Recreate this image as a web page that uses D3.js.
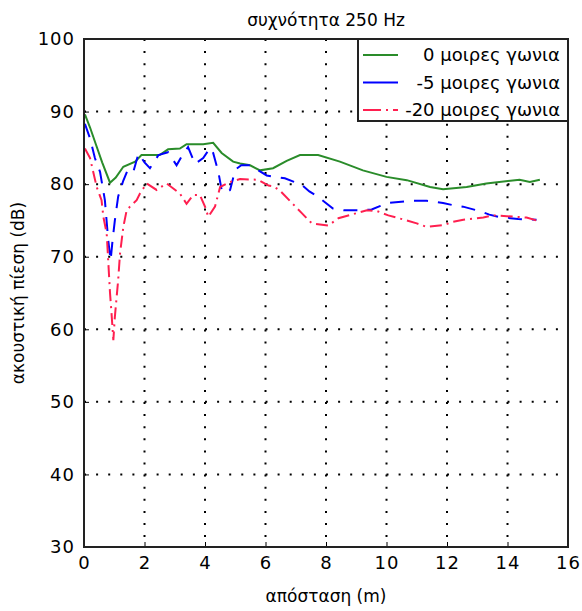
<!DOCTYPE html>
<html>
<head>
<meta charset="utf-8">
<script src="https://cdn.jsdelivr.net/npm/d3@7"></script>
<style>
  html, body { margin: 0; padding: 0; background: #ffffff; }
  text { font-family: "DejaVu Sans", "Liberation Sans", sans-serif; fill: #000; }
</style>
</head>
<body>
<svg id="chart" width="582" height="611"></svg>
<script>
// ---------- data ----------
const title = "συχνότητα 250 Hz";
const xLabel = "απόσταση (m)";
const yLabel = "ακουστική πίεση (dB)";
const xTicks = [0, 2, 4, 6, 8, 10, 12, 14, 16];
const yTicks = [30, 40, 50, 60, 70, 80, 90, 100];
const seriesNames = ["0 μοιρες γωνια", "-5 μοιρες γωνια", "-20 μοιρες γωνια"];

// 0 degrees (green, solid)
const green0X = [0.03, 0.2, 0.4, 0.6, 0.86, 1.05, 1.3, 1.69, 1.9, 2.5, 2.78, 3.17, 3.39, 3.94, 4.27, 4.55, 4.93, 5.16, 5.49, 5.82, 6.25, 6.7, 7.14, 7.74, 8.46, 9.22, 10.0, 10.67, 11.44, 11.87, 12.65, 13.3, 14.4, 14.74, 15.07];
const green0Y = [89.6, 87.8, 85.4, 83.0, 80.2, 80.9, 82.4, 83.1, 84.0, 84.0, 84.8, 84.9, 85.5, 85.5, 85.7, 84.3, 83.1, 82.85, 82.6, 81.9, 82.2, 83.2, 84.0, 84.0, 83.1, 81.9, 81.0, 80.55, 79.6, 79.3, 79.6, 80.1, 80.6, 80.3, 80.6];

// -5 degrees (blue, dashed)
const blue5X = [0.03, 0.2, 0.36, 0.53, 0.69, 0.8, 0.88, 0.95, 1.02, 1.13, 1.3, 1.45, 1.63, 1.8, 2.0, 2.18, 2.46, 2.78, 3.06, 3.25, 3.44, 3.67, 3.94, 4.17, 4.27, 4.44, 4.55, 4.7, 4.83, 5.0, 5.2, 5.49, 6.04, 6.3, 6.64, 7.2, 7.45, 7.74, 8.23, 8.6, 9.12, 9.51, 9.8, 10.05, 10.78, 11.05, 11.33, 11.87, 12.2, 12.53, 13.15, 13.4, 13.69, 14.35, 14.96];
const blue5Y = [88.3, 86.3, 83.6, 81.7, 77.8, 72.3, 69.5, 72.5, 75.0, 78.3, 80.5, 82.0, 81.7, 84.2, 83.0, 82.2, 84.0, 84.4, 82.6, 84.0, 85.1, 82.8, 83.6, 85.0, 84.3, 81.7, 79.2, 78.8, 79.2, 82.0, 82.6, 82.6, 81.2, 81.0, 80.8, 79.9, 79.0, 78.25, 76.65, 76.4, 76.4, 76.5, 77.0, 77.4, 77.7, 77.7, 77.7, 77.4, 77.1, 76.9, 76.2, 75.8, 75.5, 75.2, 75.1];

// -20 degrees (red, dash-dot)
const red20X = [0.03, 0.2, 0.42, 0.58, 0.64, 0.75, 0.8, 0.86, 0.91, 0.97, 1.02, 1.13, 1.19, 1.3, 1.41, 1.52, 1.74, 1.85, 2.07, 2.4, 2.73, 3.17, 3.39, 3.61, 3.83, 4.0, 4.11, 4.33, 4.5, 4.83, 5.16, 5.76, 6.1, 6.26, 6.48, 7.2, 7.53, 8.08, 8.41, 9.35, 9.68, 10.06, 10.67, 11.0, 11.33, 11.88, 12.2, 12.54, 13.2, 13.53, 14.63, 14.96];
const red20Y = [84.9, 83.6, 79.6, 77.8, 75.5, 73.2, 69.5, 65.0, 62.2, 58.5, 61.7, 66.8, 70.4, 74.1, 76.4, 76.9, 77.8, 78.7, 80.1, 79.2, 80.1, 78.7, 77.3, 78.5, 78.5, 76.9, 75.5, 76.9, 79.6, 80.3, 80.7, 80.6, 79.8, 79.7, 79.1, 76.0, 74.6, 74.3, 75.3, 76.4, 76.3, 75.7, 75.0, 74.6, 74.1, 74.35, 74.8, 75.1, 75.4, 75.7, 75.4, 75.0];

const seriesColors = ["#2a8c2a", "#0000ff", "#ff1f4f"];
const seriesDash = [null, "14,10", "12,5,2,5"];

// ---------- layout ----------
const svg = d3.select("#chart");
const mLeft = 84, mRight = 568, mTop = 39, mBottom = 547;

const x = d3.scaleLinear().domain([0, 16]).range([mLeft, mRight]);
const y = d3.scaleLinear().domain([30, 100]).range([mBottom, mTop]);

// grid (dotted)
const grid = svg.append("g");
xTicks.slice(1, -1).forEach(t => {
  grid.append("line").attr("x1", x(t)).attr("x2", x(t)).attr("y1", mTop).attr("y2", mBottom)
    .attr("stroke", "#000").attr("stroke-width", 2).attr("stroke-dasharray", "2,10.1");
});
yTicks.slice(1, -1).forEach(t => {
  grid.append("line").attr("x1", mLeft).attr("x2", mRight).attr("y1", y(t)).attr("y2", y(t))
    .attr("stroke", "#000").attr("stroke-width", 2).attr("stroke-dasharray", "2,10.1");
});

// series
const seriesX = [green0X, blue5X, red20X];
const seriesY = [green0Y, blue5Y, red20Y];
const line = d3.line().x(d => x(d[0])).y(d => y(d[1]));
const plot = svg.append("g");
seriesX.forEach((xs, i) => {
  const pts = xs.map((v, j) => [v, seriesY[i][j]]);
  const p = plot.append("path").datum(pts).attr("d", line)
    .attr("fill", "none").attr("stroke", seriesColors[i]).attr("stroke-width", 2);
  if (seriesDash[i]) p.attr("stroke-dasharray", seriesDash[i]);
});

// axes
const xAxis = d3.axisBottom(x).tickValues(xTicks).tickSize(-5).tickPadding(9).tickFormat(d3.format("d"));
const yAxis = d3.axisLeft(y).tickValues(yTicks).tickSize(-5).tickPadding(9).tickFormat(d3.format("d"));
const gx = svg.append("g").attr("transform", `translate(0,${mBottom})`).call(xAxis);
const gy = svg.append("g").attr("transform", `translate(${mLeft},0)`).call(yAxis);
[gx, gy].forEach(g => {
  g.select(".domain").remove();
  g.selectAll(".tick line").attr("stroke", "#000").attr("stroke-width", 1);
  g.selectAll(".tick text").style("font-size", "18px").style("letter-spacing", "1px").attr("fill", "#000");
});
gx.selectAll(".tick text").attr("dy", "0.71em");
// frame
svg.append("rect").attr("x", mLeft).attr("y", mTop).attr("width", mRight - mLeft).attr("height", mBottom - mTop)
  .attr("fill", "none").attr("stroke", "#222").attr("stroke-width", 2);

// legend
const lg = svg.append("g");
const lx0 = 358, ly0 = mTop, lw = mRight - lx0, lh = 82;
lg.append("rect").attr("x", lx0).attr("y", ly0).attr("width", lw).attr("height", lh)
  .attr("fill", "#fff").attr("stroke", "#222").attr("stroke-width", 2);
seriesNames.forEach((name, i) => {
  const yy = ly0 + 16 + i * 27.5;
  const l = lg.append("line").attr("x1", lx0 + 5).attr("x2", lx0 + 40).attr("y1", yy).attr("y2", yy)
    .attr("stroke", seriesColors[i]).attr("stroke-width", 2);
  if (i === 2) l.attr("stroke-dasharray", "18,5,2,5");
  lg.append("text").attr("x", mRight - 8).attr("y", yy).attr("dy", "0.35em")
    .attr("text-anchor", "end").style("font-size", "18px").text(name);
});

// title & labels
svg.append("text").attr("x", (mLeft + mRight) / 2).attr("y", 26).attr("text-anchor", "middle")
  .style("font-size", "17px").text(title);
svg.append("text").attr("x", (mLeft + mRight) / 2).attr("y", 602).attr("text-anchor", "middle")
  .style("font-size", "17px").text(xLabel);
svg.append("text").attr("transform", `translate(24,${(mTop + mBottom) / 2}) rotate(-90)`)
  .attr("text-anchor", "middle").style("font-size", "17px").text(yLabel);
</script>
</body>
</html>
